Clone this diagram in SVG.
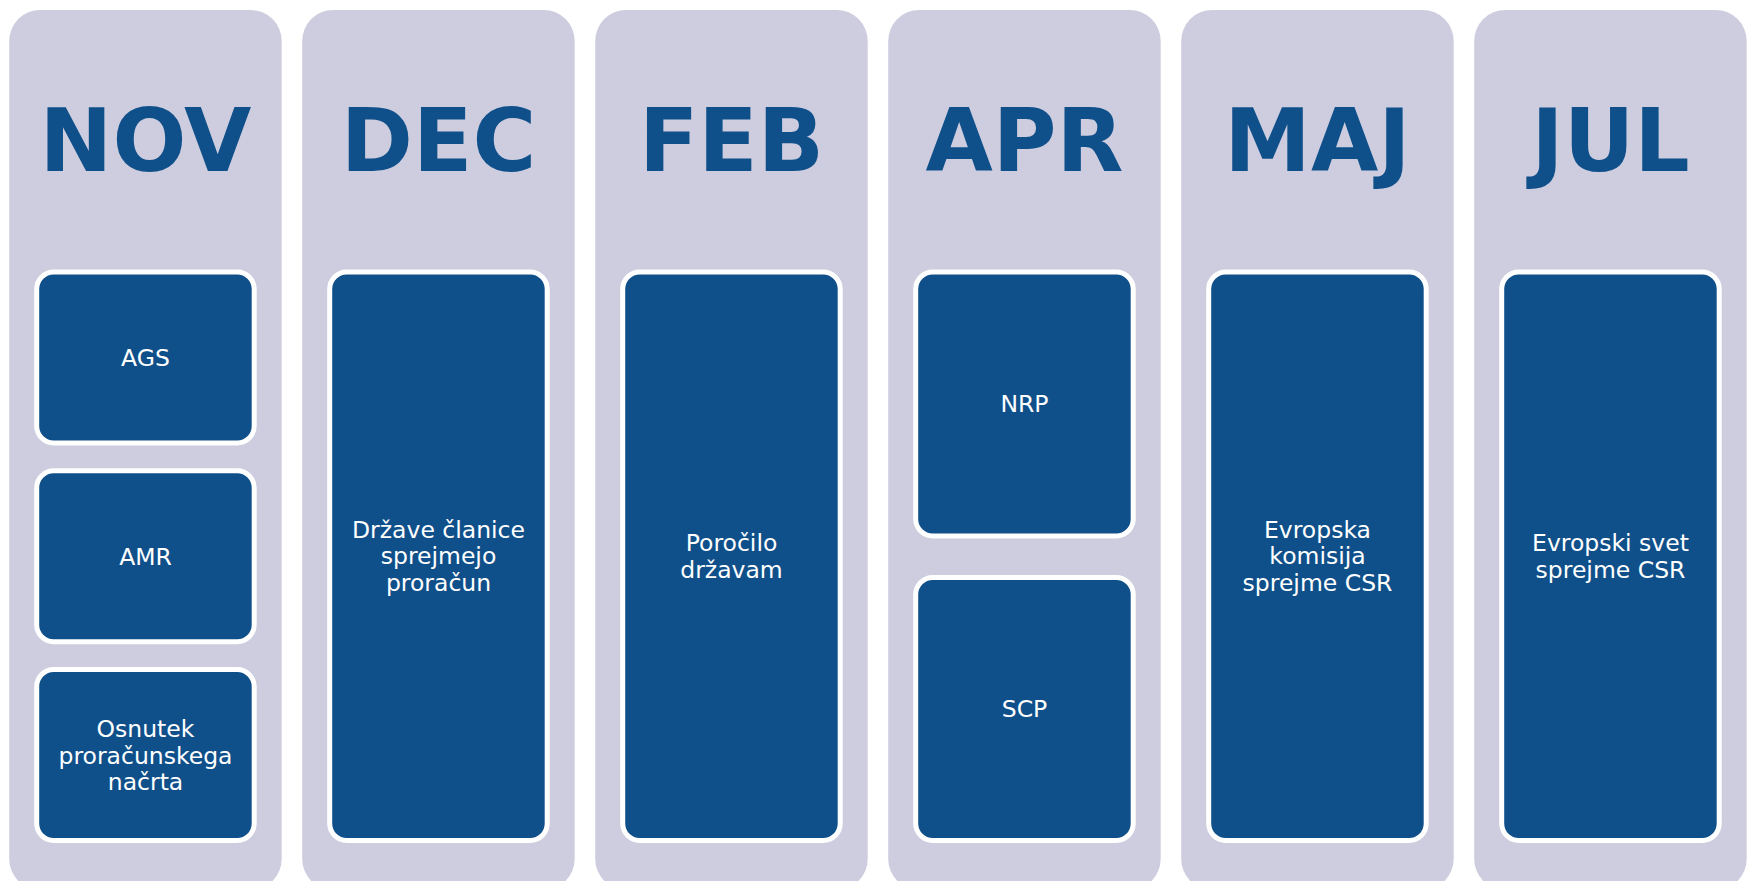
<svg xmlns="http://www.w3.org/2000/svg" width="1756" height="881" viewBox="0 0 1756 881">
<style>
.col{fill:#CECDDF;}
.box{fill:#10508A;stroke:#FFFFFF;stroke-width:5;}
.title{font-family:"DejaVu Sans","Verdana",sans-serif;font-weight:bold;font-size:87px;fill:#10508A;text-anchor:middle;}
.lbl{font-family:"DejaVu Sans","Verdana",sans-serif;font-size:23.5px;fill:#FFFFFF;text-anchor:middle;}
</style>
<rect width="1756" height="881" fill="#FFFFFF"/>
<g id="connectors"></g>
<g id="col-nov">
<rect class="col" x="9.2" y="10" width="272.5" height="880" rx="31"/>
<text class="title" x="145.5" y="170.5">NOV</text>
</g>
<g id="node-ags">
<rect class="box" x="36.7" y="272" width="217.5" height="171" rx="17"/>
<text class="lbl" x="145.5" y="366">AGS</text>
</g>
<g id="node-amr">
<rect class="box" x="36.7" y="470.75" width="217.5" height="171" rx="17"/>
<text class="lbl" x="145.5" y="564.5">AMR</text>
</g>
<g id="node-osnutek">
<rect class="box" x="36.7" y="669.5" width="217.5" height="171" rx="17"/>
<text class="lbl" x="145.5" y="737">Osnutek</text>
<text class="lbl" x="145.5" y="763.5">proračunskega</text>
<text class="lbl" x="145.5" y="790">načrta</text>
</g>
<g id="col-dec">
<rect class="col" x="302.2" y="10" width="272.5" height="880" rx="31"/>
<text class="title" x="438.5" y="170.5">DEC</text>
</g>
<g id="node-drzave">
<rect class="box" x="329.7" y="272" width="217.5" height="568.5" rx="17"/>
<text class="lbl" x="438.5" y="537.75">Države članice</text>
<text class="lbl" x="438.5" y="564.25">sprejmejo</text>
<text class="lbl" x="438.5" y="590.75">proračun</text>
</g>
<g id="col-feb">
<rect class="col" x="595.2" y="10" width="272.5" height="880" rx="31"/>
<text class="title" x="731.5" y="170.5">FEB</text>
</g>
<g id="node-porocilo">
<rect class="box" x="622.7" y="272" width="217.5" height="568.5" rx="17"/>
<text class="lbl" x="731.5" y="551">Poročilo</text>
<text class="lbl" x="731.5" y="577.5">državam</text>
</g>
<g id="col-apr">
<rect class="col" x="888.2" y="10" width="272.5" height="880" rx="31"/>
<text class="title" x="1024.5" y="170.5">APR</text>
</g>
<g id="node-nrp">
<rect class="box" x="915.7" y="272" width="217.5" height="264" rx="17"/>
<text class="lbl" x="1024.5" y="412">NRP</text>
</g>
<g id="node-scp">
<rect class="box" x="915.7" y="577.5" width="217.5" height="263" rx="17"/>
<text class="lbl" x="1024.5" y="717">SCP</text>
</g>
<g id="col-maj">
<rect class="col" x="1181.2" y="10" width="272.5" height="880" rx="31"/>
<text class="title" x="1317.5" y="170.5">MAJ</text>
</g>
<g id="node-evropska">
<rect class="box" x="1208.7" y="272" width="217.5" height="568.5" rx="17"/>
<text class="lbl" x="1317.5" y="537.75">Evropska</text>
<text class="lbl" x="1317.5" y="564.25">komisija</text>
<text class="lbl" x="1317.5" y="590.75">sprejme CSR</text>
</g>
<g id="col-jul">
<rect class="col" x="1474.2" y="10" width="272.5" height="880" rx="31"/>
<text class="title" x="1610.5" y="170.5">JUL</text>
</g>
<g id="node-evropski">
<rect class="box" x="1501.7" y="272" width="217.5" height="568.5" rx="17"/>
<text class="lbl" x="1610.5" y="551">Evropski svet</text>
<text class="lbl" x="1610.5" y="577.5">sprejme CSR</text>
</g>
</svg>
